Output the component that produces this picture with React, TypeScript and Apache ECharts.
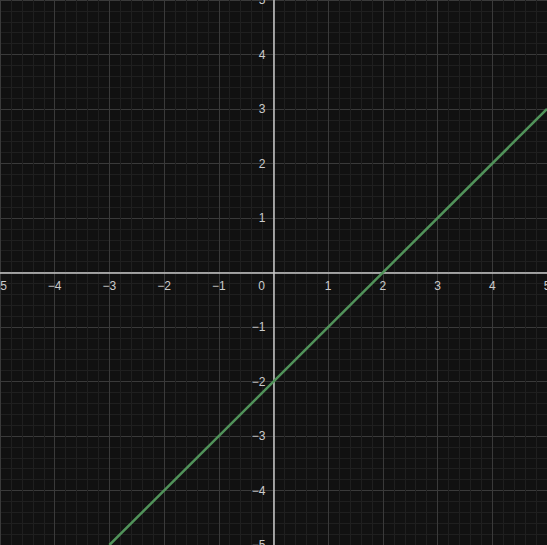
import React, { useEffect, useRef } from "react";
import * as echarts from "echarts";

const xRange = [-5, 5];
const yRange = [-5, 5];
const lineX = [-3, 5];
const lineY = [-5, 3];

const W = 547;
const H = 545;

function fmt(v: number) {
  if (v === 0) return "{z|0}";
  return String(v).replace("-", "\u2212");
}

export default function App() {
  const ref = useRef<HTMLDivElement>(null);
  useEffect(() => {
    document.body.style.margin = "0";
    const chart = echarts.init(ref.current!, null, { renderer: "svg" });
    const axisCommon = {
      type: "value" as const,
      interval: 1,
      axisLine: { onZero: false, lineStyle: { color: "#c8c8c8", width: 1.5 } },
      axisTick: { show: false },
      splitLine: { show: true, lineStyle: { color: "#3a3a3a", width: 1 } },
      minorTick: { show: false, splitNumber: 5 },
      minorSplitLine: { show: true, lineStyle: { color: "#1f1f1f", width: 1 } },
    };
    chart.setOption({
      animation: false,
      backgroundColor: "#111111",
      grid: {
        left: 0,
        right: 0,
        top: 0,
        bottom: 0,
        containLabel: false,
        outerBoundsMode: "none",
      },
      xAxis: {
        ...axisCommon,
        position: "bottom",
        offset: -H / 2,
        min: xRange[0],
        max: xRange[1],
        axisLabel: {
          color: "#cccccc",
          fontSize: 12,
          fontFamily: "sans-serif",
          margin: 7,
          showMinLabel: true,
          showMaxLabel: true,
          hideOverlap: false,
          formatter: (v: number) => fmt(v),
          rich: { z: { color: "#cccccc", fontSize: 12, padding: [0, 24, 0, 0] } },
        },
      },
      yAxis: {
        ...axisCommon,
        position: "left",
        offset: -W / 2,
        min: yRange[0],
        max: yRange[1],
        axisLabel: {
          color: "#cccccc",
          fontSize: 12,
          fontFamily: "sans-serif",
          margin: 8,
          showMinLabel: true,
          showMaxLabel: true,
          hideOverlap: false,
          formatter: (v: number) => (v === 0 ? "" : String(v).replace("-", "\u2212")),
        },
      },
      series: [
        {
          type: "line",
          data: lineX.map((x, i) => [x, lineY[i]]),
          showSymbol: false,
          lineStyle: { color: "#51935a", width: 2.5 },
          z: 1,
        },
      ],
    });
    return () => chart.dispose();
  }, []);
  return <div ref={ref} style={{ width: W, height: H, position: "fixed", left: 0, top: 0 }} />;
}
